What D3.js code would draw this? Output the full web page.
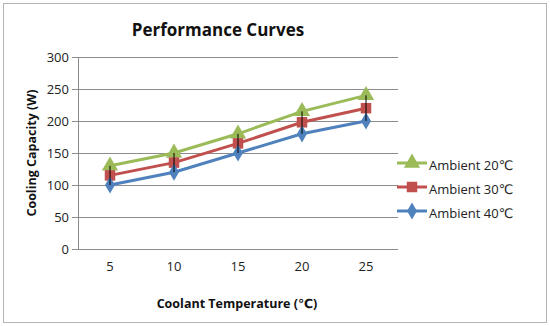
<!DOCTYPE html>
<html>
<head>
<meta charset="utf-8">
<script src="https://cdn.jsdelivr.net/npm/d3@7"></script>
<style>
  html, body { margin: 0; padding: 0; background: #fff; }
  svg { display: block; }
</style>
</head>
<body>
<div id="chart"></div>
<script>
// data
const categories = [5, 10, 15, 20, 25];
const ambient20 = [130, 150, 180, 215, 240];
const ambient30 = [115, 135, 165, 198, 220];
const ambient40 = [100, 120, 150, 180, 200];
const seriesNames = ["Ambient 20℃", "Ambient 30℃", "Ambient 40℃"];
const yTicks = [0, 50, 100, 150, 200, 250, 300];

const width = 550, height = 326;
const font = "'Open Sans', 'DejaVu Sans', sans-serif";
const margin = { top: 57, right: 152, bottom: 77, left: 78 };

const series = [
  { name: seriesNames[0], values: ambient20, color: "#9bbb59", symbol: d3.symbolTriangle, size: 115 },
  { name: seriesNames[1], values: ambient30, color: "#c0504d", symbol: d3.symbolSquare, size: 110 },
  { name: seriesNames[2], values: ambient40, color: "#4f81bd", symbol: d3.symbolDiamond, size: 85 },
];

const svg = d3.select("#chart").append("svg")
  .attr("width", width)
  .attr("height", height)
  .style("font-family", font);

// outer frame
svg.append("rect")
  .attr("x", 3.5).attr("y", 3.5)
  .attr("width", 543).attr("height", 319)
  .attr("fill", "#fff")
  .attr("stroke", "#b3b3b3");

const x = d3.scaleBand()
  .domain(categories)
  .range([margin.left, width - margin.right]);

const y = d3.scaleLinear()
  .domain([0, 300])
  .range([height - margin.bottom, margin.top]);

// gridlines + y axis
const yAxis = svg.append("g")
  .attr("transform", `translate(${margin.left},0)`)
  .call(d3.axisLeft(y).tickValues(yTicks).tickSize(6).tickPadding(3));
yAxis.select(".domain").attr("stroke", "#8c8c8c");
yAxis.selectAll(".tick line").attr("stroke", "#8c8c8c");
yAxis.selectAll(".tick text")
  .attr("fill", "#222")
  .style("font-size", "13px")
  .style("font-family", font);

svg.append("g")
  .selectAll("line")
  .data(yTicks)
  .join("line")
  .attr("x1", margin.left)
  .attr("x2", width - margin.right)
  .attr("y1", (d) => Math.round(y(d)) + 0.5)
  .attr("y2", (d) => Math.round(y(d)) + 0.5)
  .attr("stroke", "#8c8c8c")
  .attr("stroke-width", 1);

// x axis labels
const xAxis = svg.append("g")
  .attr("transform", `translate(0,${height - margin.bottom})`)
  .call(d3.axisBottom(x).tickSize(0).tickPadding(13));
xAxis.select(".domain").remove();
xAxis.selectAll(".tick text")
  .attr("fill", "#222")
  .style("font-size", "13px")
  .style("font-family", font);

const cx = (i) => x(categories[i]) + x.bandwidth() / 2;

// lines
const line = d3.line()
  .x((d, i) => cx(i))
  .y((d) => y(d));

svg.append("g")
  .selectAll("path")
  .data(series)
  .join("path")
  .attr("fill", "none")
  .attr("stroke", (d) => d.color)
  .attr("stroke-width", 3)
  .attr("d", (d) => line(d.values));

// markers
series.forEach((s) => {
  svg.append("g")
    .selectAll("path")
    .data(s.values)
    .join("path")
    .attr("transform", (d, i) => `translate(${cx(i)},${y(d)})`)
    .attr("d", d3.symbol().type(s.symbol).size(s.size))
    .attr("fill", s.color);
});

// high-low lines
svg.append("g")
  .selectAll("line")
  .data(categories)
  .join("line")
  .attr("x1", (d, i) => cx(i))
  .attr("x2", (d, i) => cx(i))
  .attr("y1", (d, i) => y(ambient20[i]))
  .attr("y2", (d, i) => y(ambient40[i]))
  .attr("stroke", "#000")
  .attr("stroke-width", 1);

// legend
const legend = svg.append("g")
  .selectAll("g")
  .data(series)
  .join("g")
  .attr("transform", (d, i) => `translate(397,${163 + i * 24})`);

legend.append("line")
  .attr("x1", 0).attr("x2", 30)
  .attr("stroke", (d) => d.color)
  .attr("stroke-width", 3);

legend.append("path")
  .attr("transform", "translate(15,0)")
  .attr("d", (d) => d3.symbol().type(d.symbol).size(d.size)())
  .attr("fill", (d) => d.color);

legend.append("text")
  .attr("x", 32)
  .attr("y", 2)
  .attr("dy", "0.35em")
  .attr("fill", "#222")
  .style("font-size", "13px")
  .text((d) => d.name);

// titles
svg.append("text")
  .attr("x", 218)
  .attr("y", 36)
  .attr("text-anchor", "middle")
  .attr("font-weight", "bold")
  .attr("fill", "#111")
  .style("font-size", "17px")
  .text("Performance Curves");

svg.append("text")
  .attr("x", 237)
  .attr("y", 308)
  .attr("text-anchor", "middle")
  .attr("font-weight", "bold")
  .attr("fill", "#111")
  .style("font-size", "12.5px")
  .text("Coolant Temperature (℃)");

svg.append("text")
  .attr("transform", `translate(36,${(margin.top + height - margin.bottom) / 2}) rotate(-90)`)
  .attr("text-anchor", "middle")
  .attr("font-weight", "bold")
  .attr("fill", "#111")
  .style("font-size", "12.5px")
  .text("Cooling Capacity (W)");
</script>
</body>
</html>
